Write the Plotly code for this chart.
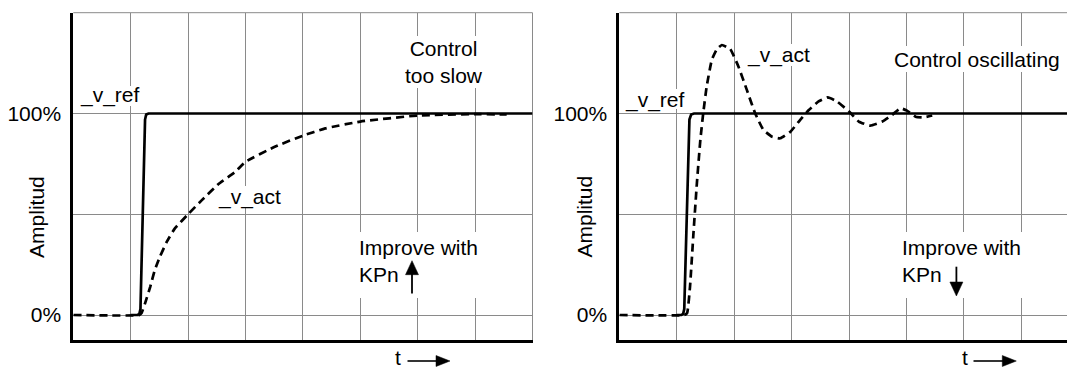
import plotly.graph_objects as go

# ---------------- data ----------------
# time is measured in grid divisions, amplitude as a fraction of the setpoint (1.0 = 100 %)

# left panel: controller too slow
slow_ref_t = [1.00, 1.12, 1.15, 1.17, 1.25, 1.27, 1.31, 8.00]
slow_ref_v = [0.00, 0.00, 0.005, 0.03, 0.97, 0.995, 1.00, 1.00]

slow_act_t = [0.00, 1.15, 1.19, 1.25, 1.34, 1.42, 1.51, 1.63, 1.77, 2.00, 2.24,
              2.53, 2.82, 3.00, 3.51, 4.00, 4.39, 5.00, 6.00, 7.00, 7.55]
slow_act_v = [0.00, 0.00, 0.01, 0.058, 0.14, 0.223, 0.29, 0.364, 0.43, 0.50, 0.57,
              0.65, 0.71, 0.76, 0.835, 0.89, 0.926, 0.96, 0.99, 0.997, 0.995]

# right panel: controller oscillating
osc_ref_t = [1.00, 1.08, 1.11, 1.13, 1.22, 1.25, 1.30, 8.00]
osc_ref_v = [0.00, 0.00, 0.005, 0.03, 0.97, 0.995, 1.00, 1.00]

osc_act_t = [0.00, 1.13, 1.18, 1.23, 1.29, 1.35, 1.41, 1.46, 1.52, 1.61, 1.70, 1.785,
             1.93, 2.075, 2.22, 2.367, 2.51, 2.66, 2.80, 2.98, 3.15, 3.30, 3.47,
             3.63, 3.79, 4.00, 4.17, 4.37, 4.58, 4.75, 4.90, 5.01, 5.16, 5.30, 5.45]
osc_act_v = [0.00, 0.00, 0.01, 0.14, 0.405, 0.654, 0.868, 1.00, 1.133, 1.266, 1.32, 1.34,
             1.32, 1.232, 1.117, 1.00, 0.918, 0.885, 0.877, 0.91, 0.968, 1.017, 1.06,
             1.08, 1.06, 1.01, 0.96, 0.94, 0.96, 0.993, 1.026, 1.014, 0.984, 0.981, 0.99]

# axis ticks
y_tick_vals = [0, 0.5, 1]
y_tick_text = ["0%", "", "100%"]
x_grid_vals = [1, 2, 3, 4, 5, 6, 7]

# ---------------- geometry (pixels) ----------------
W, H = 1067, 370
FONT = "Liberation Sans, Arial, Helvetica, sans-serif"
FS = 21
GRID = "#8a8a8a"

Y_TOP, Y_BOT = 12.7, 340.0          # plot area top / bottom
Y0_PX, Y1_PX = 315.0, 113.5         # pixel rows of 0 % and 100 %
PX_PER_UNIT = Y0_PX - Y1_PX
Y_RANGE = [-(Y_BOT - Y0_PX) / PX_PER_UNIT, 1 + (Y1_PX - Y_TOP) / PX_PER_UNIT]

DIV = 57.4                           # pixels per time division
L_X0, L_X1 = 73.3, 73.3 + 8 * DIV
R_X0, R_X1 = 619.4, W
L_RANGE = [0, 8]
R_RANGE = [0, (R_X1 - R_X0) / DIV]


def px(x):
    return x / W


def py(y):
    return 1 - y / H


def to_data(x, y, x0):
    """pixel position -> data coordinates of the panel starting at x0"""
    return (x - x0) / DIV, (Y0_PX - y) / PX_PER_UNIT


fig = go.Figure()

line_solid = dict(color="black", width=2.7)
line_dash = dict(color="black", width=2.7, dash="8px,5px", shape="spline", smoothing=0.4)

fig.add_trace(go.Scatter(x=slow_ref_t, y=slow_ref_v, mode="lines", line=line_solid,
                         xaxis="x", yaxis="y", hoverinfo="skip"))
fig.add_trace(go.Scatter(x=slow_act_t, y=slow_act_v, mode="lines", line=line_dash,
                         xaxis="x", yaxis="y", hoverinfo="skip"))
fig.add_trace(go.Scatter(x=osc_ref_t, y=osc_ref_v, mode="lines", line=line_solid,
                         xaxis="x2", yaxis="y2", hoverinfo="skip"))
fig.add_trace(go.Scatter(x=osc_act_t, y=osc_act_v, mode="lines", line=line_dash,
                         xaxis="x2", yaxis="y2", hoverinfo="skip"))

xax = dict(tickvals=x_grid_vals, showticklabels=False, ticks="", showgrid=True,
           gridcolor=GRID, gridwidth=1, zeroline=False, showline=True,
           linecolor="black", linewidth=3, fixedrange=True)
yax = dict(range=Y_RANGE, tickvals=y_tick_vals, ticktext=y_tick_text, ticks="",
           showgrid=True, gridcolor=GRID, gridwidth=1, zeroline=False, showline=True,
           linecolor="black", linewidth=3, fixedrange=True, ticklabelstandoff=5,
           tickfont=dict(family=FONT, size=FS, color="black"))

y_dom = [py(Y_BOT), py(Y_TOP)]
fig.update_layout(
    width=W, height=H,
    margin=dict(l=0, r=0, t=0, b=0),
    paper_bgcolor="white", plot_bgcolor="white",
    showlegend=False,
    font=dict(family=FONT, size=FS, color="black"),
    xaxis=dict(xax, domain=[px(L_X0), px(L_X1)], range=L_RANGE, anchor="y"),
    yaxis=dict(yax, domain=y_dom, anchor="x"),
    xaxis2=dict(xax, domain=[px(R_X0), 1.0], range=R_RANGE, anchor="y2"),
    yaxis2=dict(yax, domain=y_dom, anchor="x2"),
)

shapes = []
# thin grey frame on top (both panels) and right (left panel)
for xr, yr in (("x domain", "y domain"), ("x2 domain", "y2 domain")):
    shapes.append(dict(type="line", xref=xr, yref=yr, x0=0, x1=1, y0=1, y1=1,
                       line=dict(color=GRID, width=1), layer="below"))
shapes.append(dict(type="line", xref="x domain", yref="y domain", x0=1, x1=1, y0=0, y1=1,
                   line=dict(color=GRID, width=1), layer="below"))

# white patches that keep the grid out from under the captions
masks_left = [(78, 86, 147, 106), (216, 186, 291, 208), (403, 36, 484, 88), (355, 232, 483, 298)]
masks_right = [(623, 89, 694, 109), (744, 44, 821, 66), (891, 46, 1066, 72), (900, 232, 1027, 298)]
for boxes, x0, xr, yr in ((masks_left, L_X0, "x", "y"), (masks_right, R_X0, "x2", "y2")):
    for (a, b, c, d) in boxes:
        xa, ya = to_data(a, b, x0)
        xb, yb = to_data(c, d, x0)
        shapes.append(dict(type="rect", xref=xr, yref=yr, x0=xa, x1=xb, y0=yb, y1=ya,
                           fillcolor="white", line=dict(width=0), layer="between"))


def arrow(x0, y0, x1, y1, head=14, half=5.5, width=1.8):
    """straight arrow in pixel coordinates with a filled triangular head at (x1, y1)"""
    dx, dy = x1 - x0, y1 - y0
    n = (dx * dx + dy * dy) ** 0.5
    ux, uy = dx / n, dy / n
    bx, by = x1 - ux * head, y1 - uy * head
    nx, ny = -uy, ux
    shapes.append(dict(type="line", xref="paper", yref="paper",
                       x0=px(x0), y0=py(y0), x1=px(bx + ux), y1=py(by + uy),
                       line=dict(color="black", width=width)))
    path = "M {} {} L {} {} L {} {} Z".format(
        px(x1), py(y1), px(bx + nx * half), py(by + ny * half), px(bx - nx * half), py(by - ny * half))
    shapes.append(dict(type="path", xref="paper", yref="paper", path=path,
                       fillcolor="black", line=dict(color="black", width=0.5)))


arrow(412.0, 293.5, 412.0, 260.7, head=14, half=6.5)    # KPn up
arrow(956.4, 266.7, 956.4, 296.0, head=14, half=6.5)    # KPn down
arrow(407.5, 361.0, 450.0, 361.0, width=1.6)            # t ->
arrow(973.5, 361.0, 1016.3, 361.0, width=1.6)           # t ->

fig.update_layout(shapes=shapes)


def label(text, x, y, xanchor="left", align="left", angle=0, yanchor="middle"):
    fig.add_annotation(text=text, x=px(x), y=py(y), xref="paper", yref="paper",
                       xanchor=xanchor, yanchor=yanchor, align=align, showarrow=False,
                       textangle=angle, borderpad=0,
                       font=dict(family=FONT, size=FS, color="black"))


# left panel captions
label("_v_ref", 79.0, 95.5)
label("_v_act", 217.3, 197.0)
label("Control<br>too slow", 443.5, 61.7, xanchor="center", align="center")
label("Improve with<br>KPn", 357.6, 260.8)
label("Amplitud", 36.2, 216.7, xanchor="center", angle=-90)
label("t", 398.0, 370.0, xanchor="center", yanchor="bottom")

# right panel captions
label("_v_ref", 624.0, 99.5)
label("_v_act", 745.7, 54.7)
label("Control oscillating", 893.0, 59.3)
label("Improve with<br>KPn", 901.3, 260.8)
label("Amplitud", 584.8, 216.7, xanchor="center", angle=-90)
label("t", 965.0, 370.0, xanchor="center", yanchor="bottom")

fig.write_html("out.html")
